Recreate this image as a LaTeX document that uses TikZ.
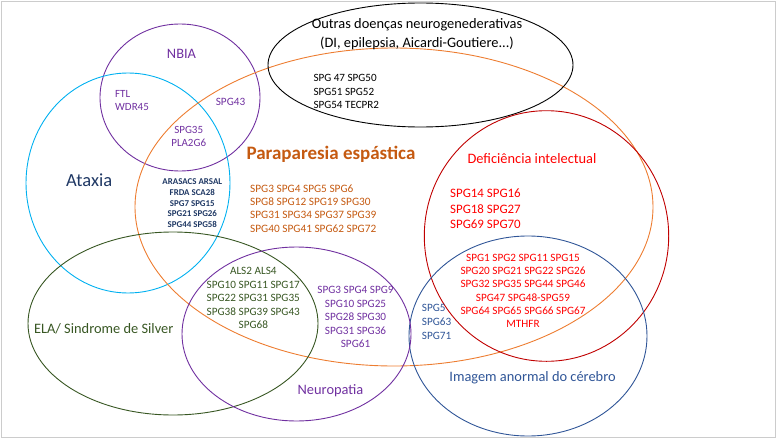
\documentclass[tikz,border=0pt]{standalone}
\usepackage{fontspec}
\setmainfont{Carlito}
\definecolor{nbiac}{HTML}{7030A0}
\definecolor{atxc}{HTML}{1F3864}
\definecolor{atxring}{HTML}{00B0F0}
\definecolor{parring}{HTML}{ED7D31}
\definecolor{parc}{HTML}{C55A11}
\definecolor{diring}{HTML}{C00000}
\definecolor{dic}{HTML}{FF0000}
\definecolor{imgc}{HTML}{2F5597}
\definecolor{elac}{HTML}{385723}

\begin{document}
\begin{tikzpicture}[x=1pt,y=-1pt,
	ring/.style={line width=0.9pt},
	lbl/.style={font=\fontsize{14.4}{17}\selectfont,inner sep=0pt},
	genes/.style={font=\fontsize{11.2}{13.4}\selectfont,inner sep=0pt,align=center}]
			\useasboundingbox (0,0) rectangle (777,439);
			\draw[gray!40,line width=0.8pt] (1.5,1.5) rectangle (775.5,437.5);
			% sets
			\draw[ring,nbiac] (180,97.5) ellipse (80 and 73.5);
			\draw[ring,atxring] (128,183) ellipse (102 and 110);
			\draw[ring,parring] (394,207) ellipse (259 and 159);
			\draw[ring,black] (420.5,65) ellipse (152.5 and 62);
			\draw[ring,diring] (546.5,236) ellipse (122.2 and 125.3);
			\draw[ring,imgc] (528,336) ellipse (119 and 100);
			\draw[ring,elac] (173,323.5) ellipse (145 and 91.5);
			\draw[ring,nbiac] (296.5,334) ellipse (114.5 and 87);
			% labels
			\node[lbl,nbiac] (nbia) at (181.5,54.3) {NBIA};
			\node[genes,nbiac,align=left,anchor=west,font=\fontsize{11}{12.4}\selectfont] (ftl) at (115,100.5) {FTL\\WDR45};
			\node[genes,nbiac] (spg43) at (230.5,102.3) {SPG43};
			\node[genes,nbiac,font=\fontsize{11}{13.3}\selectfont] (pla) at (188.7,136.7) {SPG35\\PLA2G6};
			\node[atxc,font=\fontsize{18.5}{22}\selectfont,inner sep=0pt] (atx) at (89.2,180.3) {Ataxia};
			\node[genes,atxc,font=\bfseries\fontsize{8.9}{10.8}\selectfont] (atxg) at (192.3,203.3) {ARASACS ARSAL\\FRDA SCA28\\SPG7 SPG15\\SPG21 SPG26\\SPG44 SPG58};
			\node[parc,font=\bfseries\fontsize{19}{22}\selectfont,inner sep=0pt] (par) at (331,154) {Paraparesia espástica};
			\node[genes,parc,align=left,anchor=west,font=\fontsize{11.3}{13.3}\selectfont] (parg) at (250,208.3) {SPG3 SPG4 SPG5 SPG6\\SPG8 SPG12 SPG19 SPG30\\SPG31 SPG34 SPG37 SPG39\\SPG40 SPG41 SPG62 SPG72};
			\node[lbl,align=center,font=\fontsize{14.4}{18.3}\selectfont] (out) at (417,34.2) {Outras doenças neurogenederativas\\ (DI, epilepsia, Aicardi-Goutiere...)};
			\node[genes,align=left,anchor=west,font=\fontsize{11.1}{13.3}\selectfont] (outg) at (313.3,91.7) {SPG 47 SPG50\\SPG51 SPG52\\SPG54 TECPR2};
			\node[lbl,dic] (di) at (532,158.3) {Deficiência intelectual};
			\node[genes,dic,align=left,anchor=west,font=\fontsize{12.9}{15.4}\selectfont] (dig) at (450,208.7) {SPG14 SPG16\\SPG18 SPG27\\SPG69 SPG70};
			\node[genes,dic,font=\fontsize{11.2}{13.3}\selectfont] (mid) at (523,291) {SPG1 SPG2 SPG11 SPG15\\SPG20 SPG21 SPG22 SPG26\\SPG32 SPG35 SPG44 SPG46\\SPG47 SPG48-SPG59\\SPG64 SPG65 SPG66 SPG67\\MTHFR};
			\node[genes,imgc,align=left,anchor=west,font=\fontsize{11.2}{14}\selectfont] (imgg) at (421.7,322) {SPG5\\SPG63\\SPG71};
			\node[lbl,imgc] (img) at (532.5,378) {Imagem anormal do cérebro};
			\node[lbl,elac] (ela) at (103.7,329) {ELA/ Sindrome de Silver};
			\node[genes,elac,font=\fontsize{11.2}{13.5}\selectfont] (elag) at (253.3,298) {ALS2 ALS4\\SPG10 SPG11 SPG17\\SPG22 SPG31 SPG35\\SPG38 SPG39 SPG43\\SPG68};
			\node[genes,nbiac,font=\fontsize{11.2}{13.5}\selectfont] (neug) at (355.5,317) {SPG3 SPG4 SPG9\\SPG10 SPG25\\SPG28 SPG30\\SPG31 SPG36\\SPG61};
			\node[lbl,nbiac] (neu) at (330.5,390.7) {Neuropatia};
			\end{tikzpicture}
\end{document}
